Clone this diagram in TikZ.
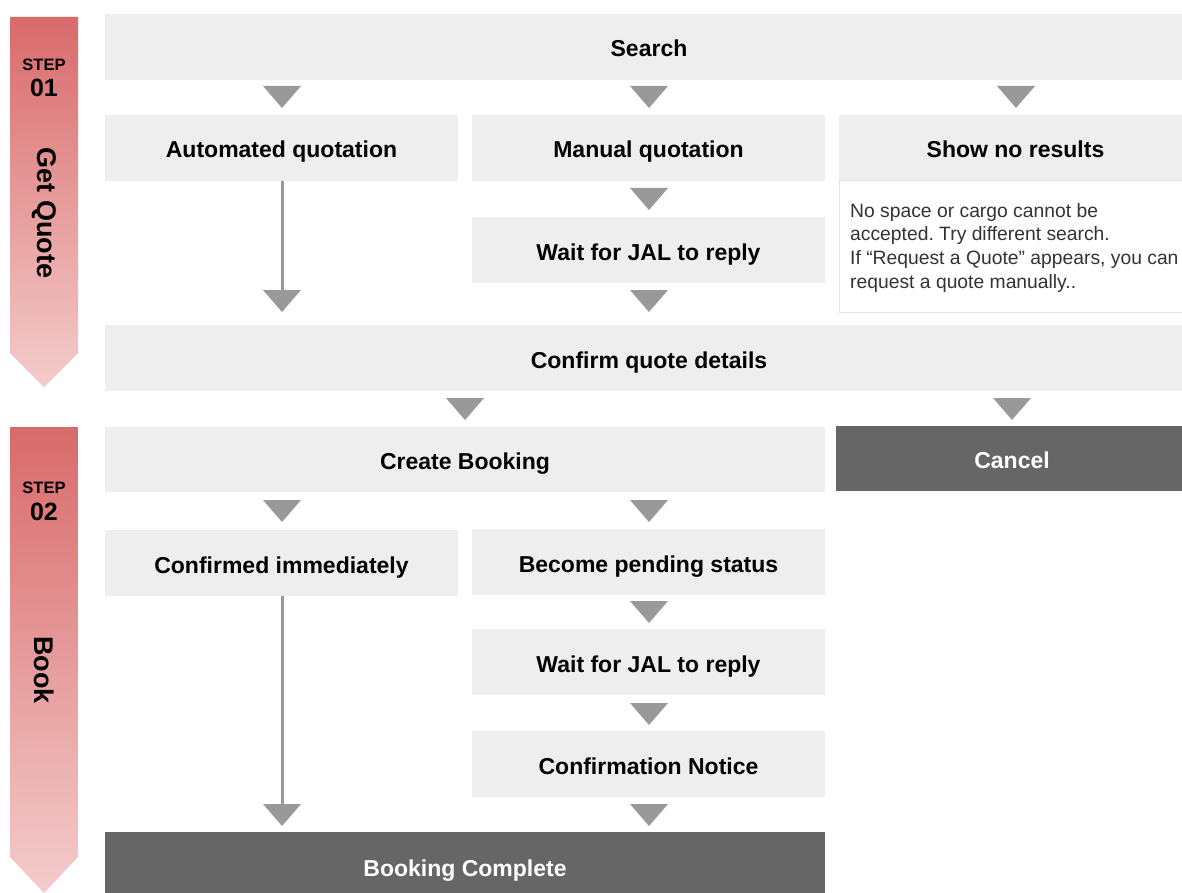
\documentclass[tikz,border=0pt]{standalone}
\usepackage{fontspec}
\setmainfont{Liberation Sans}
\frenchspacing
\definecolor{boxgray}{RGB}{238,238,238}
\definecolor{darkbox}{RGB}{102,102,102}
\definecolor{arrgray}{RGB}{153,153,153}
\definecolor{redtop}{RGB}{217,106,106}
\definecolor{redbot}{RGB}{244,204,204}
\definecolor{noteborder}{RGB}{228,228,228}
\newcommand\mytri[3]{\fill[arrgray] (#2-19,#3) -- (#2+19,#3) -- (#2,#3+22) -- cycle; \coordinate (#1) at (#2,#3);}
\begin{document}
\begin{tikzpicture}[x=1pt,y=-1pt,
 box/.style={fill=boxgray, draw=none, inner sep=0pt, font=\fontsize{23}{27}\selectfont\bfseries, text=black, text height=20pt, text depth=0pt},
 dark/.style={box, fill=darkbox, text=white},
 conn/.style={draw=arrgray, line width=3pt},
 banner/.style={top color=redtop, bottom color=redbot, draw=none},
 steplbl/.style={font=\fontsize{16.5}{16.5}\selectfont\bfseries, inner sep=0pt},
 stepnum/.style={font=\fontsize{25}{25}\selectfont\bfseries, inner sep=0pt},
 steptitle/.style={font=\fontsize{27}{27}\selectfont\bfseries, inner sep=0pt, rotate=-90},
 note/.style={fill=white, draw=noteborder, line width=1pt, inner sep=0pt},
 notetext/.style={font=\fontsize{19.3}{23.7}\selectfont, align=left, inner sep=0pt, anchor=north west, text=black!80}
]
\useasboundingbox (0,0) rectangle (1182,893);
% banners
\shade[banner] (10,17) -- (78,17) -- (78,353) -- (44,387) -- (10,353) -- cycle;
\node[steplbl] (s1a) at (44,65) {STEP};
\node[stepnum] (s1b) at (44,88) {01};
\node[steptitle] (s1c) at (44,213) {Get Quote};
\shade[banner] (10,427) -- (78,427) -- (78,857) -- (44,893) -- (10,857) -- cycle;
\node[steplbl] (s2a) at (44,488) {STEP};
\node[stepnum] (s2b) at (44,512) {02};
\node[steptitle] (s2c) at (44,670) {Book};
% boxes
\node[box, minimum width=1077pt, minimum height=66pt] (search) at (643.5,47) {\hspace*{11pt}Search};
\node[box, minimum width=353pt, minimum height=66pt] (auto) at (281.5,148) {Automated quotation};
\node[box, minimum width=353pt, minimum height=66pt] (manual) at (648.5,148) {Manual quotation};
\node[box, minimum width=343pt, minimum height=66pt] (nores) at (1010.5,148) {\hspace*{10pt}Show no results};
\node[note, minimum width=343pt, minimum height=131pt] (note) at (1010.5,246.5) {};
\node[notetext] (notet) at (850,203) {No space or cargo cannot be\\accepted. Try different search.\\If “Request a Quote” appears, you can\\request a quote manually..};
\node[box, minimum width=353pt, minimum height=66pt] (wait1) at (648.5,250) {Wait for JAL to reply};
\node[box, minimum width=1077pt, minimum height=66pt] (confirm) at (643.5,358) {\hspace*{11pt}Confirm quote details};
\node[box, minimum width=720pt, minimum height=65pt] (create) at (465,459.5) {Create Booking};
\node[dark, minimum width=346pt, minimum height=65pt] (cancel) at (1009,458.5) {\hspace*{6pt}Cancel};
\node[box, minimum width=353pt, minimum height=66pt] (confimm) at (281.5,563) {Confirmed immediately};
\node[box, minimum width=353pt, minimum height=66pt] (pending) at (648.5,562) {Become pending status};
\node[box, minimum width=353pt, minimum height=66pt] (wait2) at (648.5,662) {Wait for JAL to reply};
\node[box, minimum width=353pt, minimum height=66pt] (notice) at (648.5,764) {Confirmation Notice};
\node[dark, minimum width=720pt, minimum height=68pt] (complete) at (465,866) {Booking Complete};
% triangles
\mytri{t1}{282}{86}
\mytri{t2}{649}{86}
\mytri{t3}{1016}{86}
\mytri{t4}{649}{188}
\mytri{t5}{282}{290}
\mytri{t6}{649}{290}
\mytri{t7}{465}{398}
\mytri{t8}{1012}{398}
\mytri{t9}{282}{500}
\mytri{t10}{649}{500}
\mytri{t11}{649}{601}
\mytri{t12}{649}{703}
\mytri{t13}{282}{804}
\mytri{t14}{649}{804}
% connectors
\draw[conn] (auto.south -| t5) -- (t5);
\draw[conn] (confimm.south -| t13) -- (t13);
\end{tikzpicture}
\end{document}
